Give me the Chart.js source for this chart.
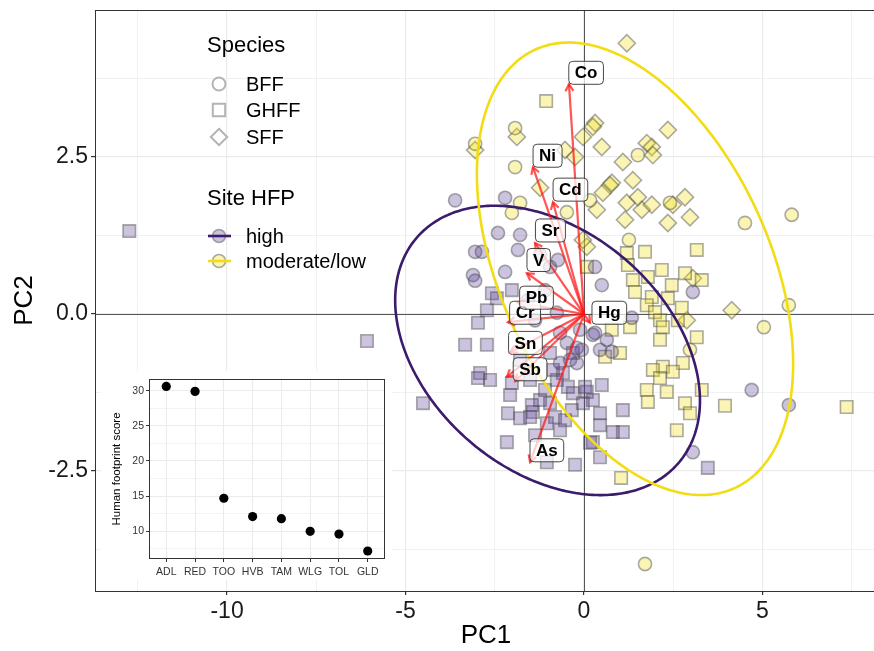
<!DOCTYPE html>
<html><head><meta charset="utf-8">
<script src="https://cdn.jsdelivr.net/npm/chart.js@4.4.1/dist/chart.umd.min.js"></script>
<style>
html,body{margin:0;padding:0;background:#fff;}
#wrap{position:relative;width:874px;height:651px;overflow:hidden;}
#main{position:absolute;left:0;top:0;}
#inset{position:absolute;left:101px;top:371px;background:#fff;}
</style></head><body>
<div id="wrap"><canvas id="main" width="874" height="651"></canvas><canvas id="inset" width="291" height="209"></canvas></div>
<script>
// ---------- DATA ----------
const speciesNames = ['BFF', 'GHFF', 'SFF'];
const siteNames = ['high', 'moderate/low'];

// PC1, PC2 scores
const bffHigh = [[-3.61,1.81],[-2.21,1.85],[-2.41,1.29],[-1.79,1.26],[-3.05,0.99],[-2.86,0.99],[-1.85,1.02],[-3.11,0.62],[-3.05,0.53],[-2.21,0.67],[-0.95,0.75],[-0.73,0.86],[0.31,0.75],[0.50,0.46],[3.05,0.35],[1.34,-0.06],[0.31,-0.30],[0.64,-0.41],[0.45,-0.57],[0.78,-0.60],[-0.06,-0.57],[0.25,-0.33],[-0.20,-0.78],[4.70,-1.21],[5.74,-1.45],[3.05,-2.20],[-1.37,-0.10],[-0.76,0.02],[-0.67,-0.30],[-0.48,-0.46],[-0.11,-0.25],[-0.20,-0.54],[-0.39,-0.73],[-0.67,-0.78],[-1.09,0.38],[-1.57,0.22],[-1.23,0.94]];
const ghffHigh = [[-12.74,1.32],[-6.08,-0.43],[-4.51,-1.42],[-2.58,0.33],[-2.72,0.06],[-2.02,0.38],[-2.44,0.25],[-2.97,-0.14],[-3.33,-0.49],[-2.72,-0.49],[-2.91,-0.94],[-2.63,-1.05],[-2.97,-1.02],[-2.07,-1.29],[-2.13,-1.58],[-1.79,-1.66],[-1.46,-1.45],[-1.43,-1.56],[-1.51,-1.64],[-1.23,-1.37],[-0.95,-1.42],[-0.81,-1.64],[-0.53,-1.69],[-0.45,-1.16],[-0.76,-1.05],[-0.59,-0.94],[-0.31,-1.26],[0.08,-1.24],[0.25,-1.37],[-0.03,-1.42],[-0.34,-1.53],[-1.04,-1.74],[-2.16,-2.04],[-1.04,-2.36],[-0.25,-2.40],[0.25,-2.04],[-0.87,-0.89],[-0.95,-0.62],[-0.31,-0.62],[0.45,-1.58],[1.09,-1.53],[0.81,-1.88],[1.09,-1.88],[0.17,-2.05],[0.45,-2.28],[0.03,-1.16],[0.50,-1.13],[3.47,-2.45],[-1.79,-0.73],[-1.51,-1.05],[-1.09,-1.21],[-0.67,-1.85],[-1.37,-1.93],[0.45,-1.77],[-2.02,-1.10]];
const bffMod = [[-3.05,2.71],[-1.93,2.96],[-1.93,2.34],[-1.79,1.77],[-2.02,1.61],[-0.48,1.62],[1.51,2.53],[0.17,1.81],[2.41,1.77],[1.26,1.18],[4.51,1.45],[5.82,1.58],[5.74,0.14],[5.04,-0.21],[2.97,-0.57],[1.71,-3.98]];
const ghffMod = [[-1.06,3.39],[1.20,0.97],[1.71,0.99],[3.16,1.02],[1.23,0.78],[2.18,0.70],[1.37,0.54],[1.79,0.59],[2.46,0.46],[2.83,0.65],[3.30,0.54],[1.43,0.35],[1.90,0.27],[2.35,0.25],[1.76,0.14],[1.99,0.03],[2.74,0.10],[2.13,-0.10],[2.21,-0.21],[2.63,-0.10],[1.29,-0.21],[0.78,-0.25],[2.13,-0.41],[3.16,-0.37],[1.01,-0.62],[0.59,-0.68],[2.77,-0.78],[2.21,-0.84],[1.93,-0.89],[2.49,-0.92],[2.13,-1.02],[1.76,-1.21],[2.32,-1.24],[3.30,-1.21],[1.79,-1.40],[2.83,-1.42],[2.97,-1.58],[3.95,-1.46],[7.36,-1.48],[2.60,-1.85],[1.04,-2.61],[0.08,0.75]];
const sffMod = [[1.20,4.31],[0.31,3.04],[0.25,2.98],[-0.03,2.82],[0.50,2.66],[2.35,2.93],[1.76,2.72],[1.90,2.66],[1.93,2.53],[1.09,2.42],[1.37,2.13],[0.78,2.09],[0.73,2.05],[0.53,1.93],[0.36,1.66],[1.20,1.77],[1.51,1.86],[1.62,1.66],[1.90,1.74],[2.49,1.74],[2.83,1.86],[2.35,1.45],[2.97,1.54],[1.15,1.50],[-3.05,2.61],[-1.88,2.82],[-1.23,2.01],[-0.53,2.61],[-0.25,2.50],[4.14,0.06],[2.88,-0.10],[3.05,0.57],[0.08,1.07],[-0.03,1.18]];

// element loadings (arrow tips) and their label positions
const loadingNames = ['Co','Ni','Cd','Sr','V','Cr','Pb','Hg','Sn','','Sb','As'];
const loadingX = [-0.42,-1.43,-0.87,-1.37,-1.60,-2.13,-1.85,0.17,-2.07,-2.16,-1.93,-1.51];
const loadingY = [3.66,2.34,1.78,1.13,0.65,-0.13,0.18,-0.14,-0.61,-1.00,-1.07,-2.36];
const labelX = [0.06,-1.02,-0.38,-0.94,-1.27,-1.65,-1.33,0.71,-1.64,null,-1.51,-1.04];
const labelY = [3.84,2.52,1.98,1.33,0.86,0.02,0.26,0.02,-0.46,null,-0.88,-2.17];

// 95% ellipses per site group: centre and axis vectors (x = cx + ax*cos t ; y = cy + ayc*cos t + ays*sin t)
const ellipseCx  = [-1.02, 1.43];
const ellipseCy  = [-0.58, 0.72];
const ellipseAx  = [4.27, 4.43];
const ellipseAyc = [-0.80, -1.51];
const ellipseAys = [2.16, 3.27];

const xTickLabels = [-10, -5, 0, 5];
const yTickLabels = [-2.5, 0, 2.5];

// inset
const insetSites = ['ADL','RED','TOO','HVB','TAM','WLG','TOL','GLD'];
const insetScores = [30.6, 29.9, 14.7, 12.1, 11.8, 10.0, 9.6, 7.2];

// ---------- STYLE ----------
const FONT = '"Liberation Sans", Arial, Helvetica, sans-serif';
Chart.defaults.font.family = FONT;
const siteLine = ['#3b1b6b', '#f2dc14'];
const siteFill = ['rgba(85,60,150,0.30)', 'rgba(240,222,10,0.30)'];
const pointBorder = 'rgba(70,70,70,0.45)';
const styleOf = {BFF:['circle',6.6], GHFF:['rect',8.8], SFF:['rectRot',8.6]};

function mk(pts, sp, site) {
  return {
    label: sp + ' ' + site,
    data: pts.map(p => ({x: p[0], y: p[1]})),
    pointStyle: styleOf[sp][0], pointRadius: styleOf[sp][1], pointHoverRadius: styleOf[sp][1],
    backgroundColor: siteFill[siteNames.indexOf(site)], borderColor: pointBorder, borderWidth: 1.6
  };
}
const isMult = (v, m) => Math.abs(v / m - Math.round(v / m)) < 1e-6;

function drawShape(ctx, style, cx, cy, r) {
  ctx.beginPath();
  if (style === 'circle') ctx.arc(cx, cy, r, 0, Math.PI * 2);
  else if (style === 'rect') { ctx.rect(cx - r, cy - r, 2 * r, 2 * r); }
  else { ctx.moveTo(cx, cy - r); ctx.lineTo(cx + r, cy); ctx.lineTo(cx, cy + r); ctx.lineTo(cx - r, cy); ctx.closePath(); }
}

// force the panel (plot area) to given pixel bounds
function fixArea(L, T, R, B) {
  return {
    id: 'fixArea',
    afterLayout(chart) {
      const a = chart.chartArea;
      a.left = L; a.top = T; a.right = R; a.bottom = B; a.width = R - L; a.height = B - T;
      const {x, y} = chart.scales;
      x.left = L; x.right = R; x.width = R - L; x.top = B; x.bottom = chart.height; x.height = chart.height - B;
      x.configure();
      y.left = 0; y.right = L; y.width = L; y.top = T; y.bottom = B; y.height = B - T;
      y.configure();
    }
  };
}

const extras = {
  id: 'extras',
  beforeDatasetsDraw(chart) {
    const {ctx, chartArea: a, scales: {x, y}} = chart;
    ctx.save();
    ctx.strokeStyle = '#555'; ctx.lineWidth = 1;
    const x0 = Math.round(x.getPixelForValue(0)) + 0.5, y0 = Math.round(y.getPixelForValue(0)) + 0.5;
    ctx.beginPath();
    ctx.moveTo(x0, a.top); ctx.lineTo(x0, a.bottom);
    ctx.moveTo(a.left, y0); ctx.lineTo(a.right, y0);
    ctx.stroke();
    ctx.restore();
  },
  afterDatasetsDraw(chart) {
    const {ctx, chartArea: a, scales: {x, y}} = chart;
    ctx.save();
    ctx.beginPath(); ctx.rect(a.left, a.top, a.right - a.left, a.bottom - a.top); ctx.clip();
    // ellipses
    for (let g = 0; g < 2; g++) {
      ctx.beginPath();
      for (let k = 0; k <= 360; k++) {
        const t = k * Math.PI / 180;
        const px = x.getPixelForValue(ellipseCx[g] + ellipseAx[g] * Math.cos(t));
        const py = y.getPixelForValue(ellipseCy[g] + ellipseAyc[g] * Math.cos(t) + ellipseAys[g] * Math.sin(t));
        if (k === 0) ctx.moveTo(px, py); else ctx.lineTo(px, py);
      }
      ctx.strokeStyle = siteLine[g]; ctx.lineWidth = 2.6; ctx.stroke();
    }
    // arrows
    const ox = x.getPixelForValue(0), oy = y.getPixelForValue(0);
    ctx.strokeStyle = 'rgba(255,20,20,0.72)'; ctx.lineWidth = 2.2; ctx.lineCap = 'butt';
    for (let i = 0; i < loadingX.length; i++) {
      const tx = x.getPixelForValue(loadingX[i]), ty = y.getPixelForValue(loadingY[i]);
      const ang = Math.atan2(ty - oy, tx - ox);
      ctx.beginPath(); ctx.moveTo(ox, oy); ctx.lineTo(tx, ty); ctx.stroke();
      const L = 8, h = Math.PI / 6;
      ctx.beginPath();
      ctx.moveTo(tx - L * Math.cos(ang - h), ty - L * Math.sin(ang - h));
      ctx.lineTo(tx, ty);
      ctx.lineTo(tx - L * Math.cos(ang + h), ty - L * Math.sin(ang + h));
      ctx.stroke();
    }
    // labels
    ctx.font = 'bold 17px ' + FONT; ctx.textAlign = 'center'; ctx.textBaseline = 'middle';
    for (let i = 0; i < loadingNames.length; i++) {
      if (labelX[i] === null) continue;
      const cx = x.getPixelForValue(labelX[i]), cy = y.getPixelForValue(labelY[i]);
      const tw = ctx.measureText(loadingNames[i]).width;
      const w = tw + 12, hgt = 23;
      ctx.beginPath();
      ctx.roundRect(cx - w / 2, cy - hgt / 2, w, hgt, 4);
      ctx.fillStyle = 'rgba(255,255,255,0.72)'; ctx.fill();
      ctx.strokeStyle = '#333'; ctx.lineWidth = 0.9; ctx.stroke();
      ctx.fillStyle = '#000'; ctx.fillText(loadingNames[i], cx, cy + 1);
    }
    ctx.restore();
    // panel border
    ctx.save();
    ctx.strokeStyle = '#333'; ctx.lineWidth = 1;
    ctx.strokeRect(Math.round(a.left) + 0.5, Math.round(a.top) + 0.5, Math.round(a.right - a.left) - 1, Math.round(a.bottom - a.top));
    // legend
    ctx.textAlign = 'left'; ctx.textBaseline = 'middle'; ctx.fillStyle = '#000';
    ctx.font = '22px ' + FONT;
    ctx.fillText('Species', 207, 46);
    ctx.fillText('Site HFP', 207, 199);
    ctx.font = '20px ' + FONT;
    const sy = [84, 110, 137];
    speciesNames.forEach((s, i) => {
      const st = styleOf[s][0];
      drawShape(ctx, st, 219, sy[i], st === 'circle' ? 6.5 : (st === 'rect' ? 6.2 : 8.2));
      ctx.fillStyle = '#fff'; ctx.fill();
      ctx.strokeStyle = '#b3b3b3'; ctx.lineWidth = 2; ctx.stroke();
      ctx.fillStyle = '#000'; ctx.fillText(s, 246, sy[i] + 1);
    });
    const hy = [236, 261];
    siteNames.forEach((s, i) => {
      drawShape(ctx, 'circle', 219, hy[i], 6.5);
      ctx.fillStyle = siteFill[i]; ctx.fill();
      ctx.strokeStyle = pointBorder; ctx.lineWidth = 1.6; ctx.stroke();
      ctx.beginPath(); ctx.moveTo(208, hy[i]); ctx.lineTo(231, hy[i]);
      ctx.strokeStyle = siteLine[i]; ctx.lineWidth = 2.6; ctx.stroke();
      ctx.fillStyle = '#000'; ctx.fillText(s, 246, hy[i] + 1);
    });
    ctx.restore();
  }
};

new Chart(document.getElementById('main'), {
  type: 'scatter',
  data: {datasets: [
    mk(bffHigh, 'BFF', 'high'), mk(ghffHigh, 'GHFF', 'high'),
    mk(bffMod, 'BFF', 'moderate/low'), mk(ghffMod, 'GHFF', 'moderate/low'), mk(sffMod, 'SFF', 'moderate/low')
  ]},
  options: {
    responsive: false, animation: false, events: [],
    plugins: {legend: {display: false}, tooltip: {enabled: false}},
    scales: {
      x: {
        type: 'linear', min: -13.70, max: 8.21,
        ticks: {stepSize: 2.5, includeBounds: false, autoSkip: false, maxRotation: 0, padding: 3,
          font: {size: 23}, color: '#1a1a1a',
          callback: v => (xTickLabels.some(t => Math.abs(t - v) < 1e-6) ? String(v) : '')},
        grid: {color: '#EBEBEB', lineWidth: c => (c.tick && isMult(c.tick.value, 5)) ? 1.2 : 0.7,
          tickLength: 4, tickColor: c => (c.tick && isMult(c.tick.value, 5)) ? '#333' : 'rgba(0,0,0,0)'},
        border: {display: false},
        title: {display: true, text: 'PC1', font: {size: 26}, color: '#000', padding: {top: 0, bottom: 0}}
      },
      y: {
        type: 'linear', min: -4.41, max: 4.84,
        ticks: {stepSize: 1.25, includeBounds: false, autoSkip: false, padding: 3,
          font: {size: 23}, color: '#1a1a1a',
          callback: v => (yTickLabels.some(t => Math.abs(t - v) < 1e-6) ? v.toFixed(1) : '')},
        grid: {color: '#EBEBEB', lineWidth: c => (c.tick && isMult(c.tick.value, 2.5)) ? 1.2 : 0.7,
          tickLength: 4, tickColor: c => (c.tick && isMult(c.tick.value, 2.5)) ? '#333' : 'rgba(0,0,0,0)'},
        border: {display: false},
        title: {display: true, text: 'PC2', font: {size: 26}, color: '#000', padding: {top: 9, bottom: 0}}
      }
    }
  },
  plugins: [fixArea(95, 10, 877, 591), extras]
});

// ---------- INSET ----------
const insetBorder = {
  id: 'insetBorder',
  afterDraw(chart) {
    const {ctx, chartArea: a} = chart;
    ctx.save(); ctx.strokeStyle = '#333'; ctx.lineWidth = 1;
    ctx.strokeRect(Math.round(a.left) + 0.5, Math.round(a.top) + 0.5, Math.round(a.right - a.left) - 1, Math.round(a.bottom - a.top) - 1);
    ctx.restore();
  }
};
new Chart(document.getElementById('inset'), {
  type: 'scatter',
  data: {datasets: [{data: insetScores.map((v, i) => ({x: i, y: v})), pointRadius: 4.6, pointHoverRadius: 4.6,
    backgroundColor: '#000', borderColor: '#000', borderWidth: 0}]},
  options: {
    responsive: false, animation: false, events: [],
    plugins: {legend: {display: false}, tooltip: {enabled: false}},
    scales: {
      x: {
        type: 'linear', min: -0.6, max: insetSites.length - 0.4,
        afterBuildTicks(s) { s.ticks = insetSites.map((_, i) => ({value: i})); },
        ticks: {autoSkip: false, maxRotation: 0, padding: 4, font: {size: 10.5}, color: '#333',
          callback: v => insetSites[v]},
        grid: {color: '#EBEBEB', lineWidth: 1, tickLength: 3, tickColor: '#333'},
        border: {display: false}
      },
      y: {
        type: 'linear', min: 6.06, max: 31.66,
        ticks: {stepSize: 2.5, includeBounds: false, autoSkip: false, padding: 2, font: {size: 10.5}, color: '#333',
          callback: v => isMult(v, 5) ? String(v) : ''},
        grid: {color: '#EBEBEB', lineWidth: c => (c.tick && isMult(c.tick.value, 5)) ? 1 : 0.6,
          tickLength: 3, tickColor: c => (c.tick && isMult(c.tick.value, 5)) ? '#333' : 'rgba(0,0,0,0)'},
        border: {display: false},
        title: {display: true, text: 'Human footprint score', font: {size: 11.5}, color: '#000', padding: {top: 9, bottom: 0}}
      }
    }
  },
  plugins: [fixArea(48, 8, 284, 188), insetBorder]
});
</script>
</body></html>
